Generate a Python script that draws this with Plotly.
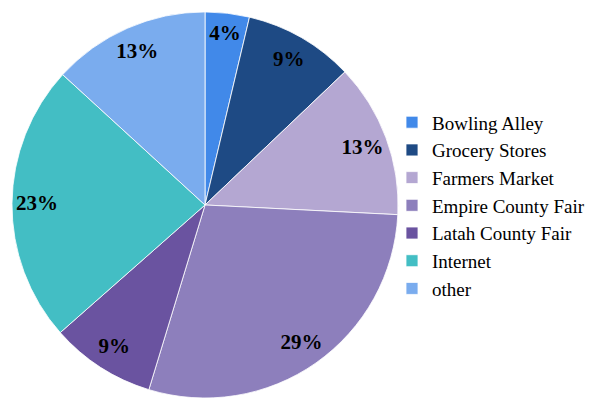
import plotly.graph_objects as go

labels = ["Bowling Alley", "Grocery Stores", "Farmers Market", "Empire County Fair",
          "Latah County Fair", "Internet", "other"]
values = [3.7, 9.2, 12.9, 28.9, 8.8, 23.3, 13.2]
colors = ["#4189E9", "#1E4A84", "#B4A7D2", "#8D7FBC", "#6A53A0", "#43BEC4", "#7AACEE"]

dom = dict(x=[0.0, 0.695], y=[0, 0.97])

# filled slices + legend
fig = go.Figure(go.Pie(
    labels=labels,
    values=values,
    sort=False,
    direction="clockwise",
    rotation=0,
    marker=dict(colors=colors, line=dict(color="white", width=0.8)),
    textinfo="none",
    domain=dom,
    hoverinfo="label+percent",
))

# transparent ring carrying the percentage labels near the outer edge
fig.add_trace(go.Pie(
    labels=labels,
    values=values,
    sort=False,
    direction="clockwise",
    rotation=0,
    hole=0.74,
    marker=dict(colors=["rgba(0,0,0,0)"] * len(values), line=dict(width=0)),
    texttemplate="%{percent:.0%}",
    textposition="inside",
    insidetextorientation="horizontal",
    textfont=dict(family="Liberation Serif", size=21, color="black", weight="bold"),
    domain=dom,
    showlegend=False,
    hoverinfo="skip",
))

fig.update_layout(
    width=590, height=398,
    margin=dict(l=0, r=0, t=0, b=0),
    paper_bgcolor="white",
    plot_bgcolor="white",
    showlegend=True,
    legend=dict(
        x=1.0, xanchor="right", y=0.484, yanchor="middle",
        font=dict(family="Liberation Serif", size=19, color="black"),
        bgcolor="rgba(0,0,0,0)",
    ),
)

fig.write_html("out.html")
